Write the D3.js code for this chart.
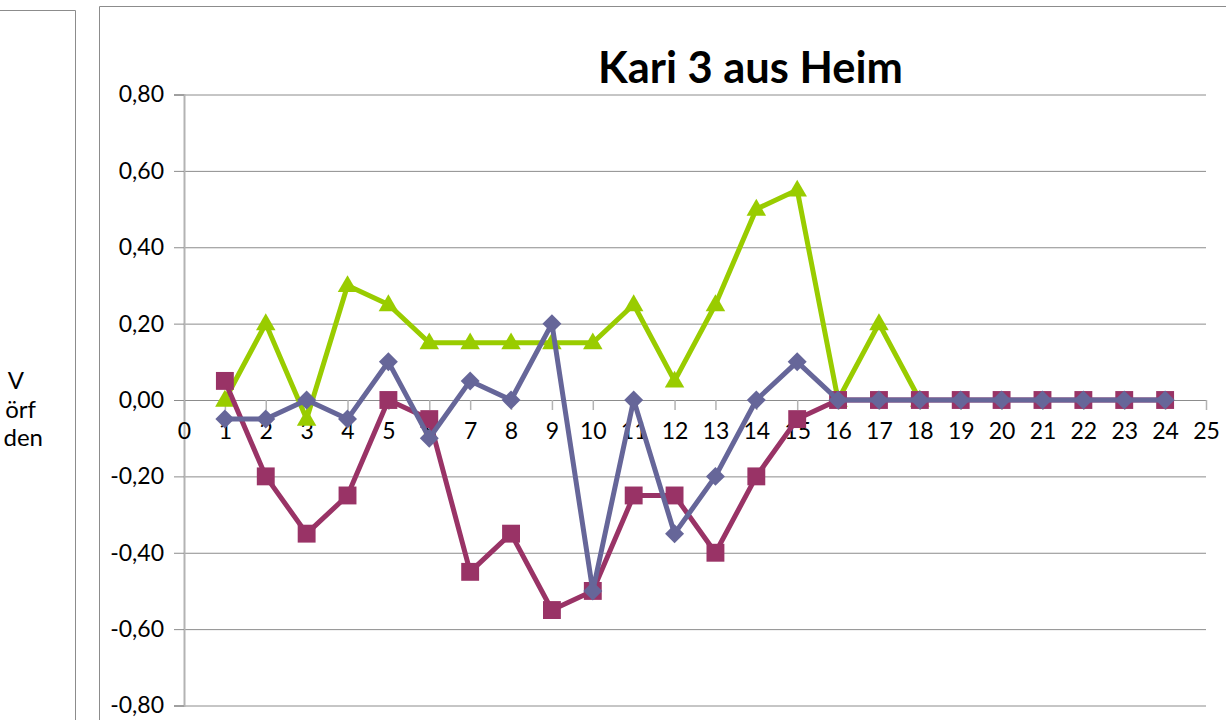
<!DOCTYPE html>
<html>
<head>
<meta charset="utf-8">
<script src="https://cdn.jsdelivr.net/npm/d3@7"></script>
<style>
  body { margin: 0; background: #fff; }
  svg { display: block; font-family: Lato, "Open Sans", sans-serif; }
</style>
</head>
<body>
<svg id="chart" width="1226" height="720"></svg>
<script>
// data
const categories = d3.range(1, 25);
const greenValues = [0, 0.20, -0.05, 0.30, 0.25, 0.15, 0.15, 0.15, 0.15, 0.15, 0.25, 0.05, 0.25, 0.50, 0.55, 0, 0.20, 0];
const redValues = [0.05, -0.20, -0.35, -0.25, 0, -0.05, -0.45, -0.35, -0.55, -0.50, -0.25, -0.25, -0.40, -0.20, -0.05, 0, 0, 0, 0, 0, 0, 0, 0, 0];
const blueValues = [-0.05, -0.05, 0, -0.05, 0.10, -0.10, 0.05, 0, 0.20, -0.50, 0, -0.35, -0.20, 0, 0.10, 0, 0, 0, 0, 0, 0, 0, 0, 0];
const yTicks = [-0.8, -0.6, -0.4, -0.2, 0, 0.2, 0.4, 0.6, 0.8];
const xTicks = d3.range(0, 26);
const sideLabels = ["V", "örf", "den"];

const svg = d3.select("#chart");

// left neighbour chart, cut off
svg.append("path")
    .attr("d", "M-1,10.5 H75.5 V721")
    .attr("fill", "none")
    .attr("stroke", "#8c8c8c")
    .attr("stroke-width", 1);

svg.selectAll("text.side")
    .data(sideLabels)
    .enter()
    .append("text")
    .attr("class", "side")
    .attr("x", (d, i) => [24, 36, 43][i])
    .attr("y", (d, i) => 389 + i * 28.5)
    .attr("text-anchor", "end")
    .attr("font-size", 24)
    .text(d => d);

// main chart frame
svg.append("path")
    .attr("d", "M99.5,721 V6.5 H1227")
    .attr("fill", "none")
    .attr("stroke", "#8c8c8c")
    .attr("stroke-width", 1);

const x = d3.scaleLinear().domain([0, 25]).range([184, 1206]);
const y = d3.scaleLinear().domain([-0.8, 0.8]).range([705.5, 94.5]);

const fmt = v => v.toFixed(2).replace(".", ",");

// gridlines
svg.append("g")
    .attr("transform", `translate(${x(0)},0)`)
    .call(d3.axisLeft(y).tickValues(yTicks).tickSize(-(x(25) - x(0))).tickFormat(""))
    .call(g => g.select(".domain").remove())
    .call(g => g.selectAll("line").attr("stroke", "#8c8c8c").attr("stroke-width", 1));

// y axis
svg.append("g")
    .attr("transform", `translate(${x(0)},0)`)
    .call(d3.axisLeft(y).tickValues(yTicks).tickSize(10).tickPadding(10).tickFormat(fmt))
    .call(g => g.select(".domain").attr("stroke", "#b3b3b3").attr("stroke-width", 2))
    .call(g => g.selectAll("line").attr("stroke", "#8c8c8c"))
    .call(g => g.selectAll("text").attr("font-size", 23).attr("font-family", "Lato").attr("fill", "#000"));

// x axis on the zero line
svg.append("g")
    .attr("transform", `translate(0,${y(0)})`)
    .call(d3.axisBottom(x).tickValues(xTicks).tickSize(10).tickPadding(13).tickFormat(d3.format("d")))
    .call(g => g.select(".domain").attr("stroke", "#8c8c8c").attr("d", `M${x(0)},0.5H${x(25)}`))
    .call(g => g.selectAll("line").attr("stroke", "#b3b3b3").attr("stroke-width", 1.5))
    .call(g => g.selectAll("text").attr("font-size", 23).attr("font-family", "Lato").attr("fill", "#000"));

// series: green under red under blue
const series = [
    { values: greenValues, color: "#99cc00", symbol: d3.symbolTriangle, size: 165, rot: 0, dy: 1 },
    { values: redValues, color: "#993366", symbol: d3.symbolSquare, size: 320, rot: 0, dy: 0 },
    { values: blueValues, color: "#666699", symbol: d3.symbolSquare, size: 180, rot: 45, dy: 0 }
];

const line = d3.line()
    .x((d, i) => x(categories[i]))
    .y(d => y(d));

series.forEach(s => {
    const g = svg.append("g");
    g.append("path")
        .attr("d", line(s.values))
        .attr("fill", "none")
        .attr("stroke", s.color)
        .attr("stroke-width", 5)
        .attr("stroke-linejoin", "round");
    g.selectAll("path.marker")
        .data(s.values)
        .enter()
        .append("path")
        .attr("class", "marker")
        .attr("d", d3.symbol().type(s.symbol).size(s.size))
        .attr("transform", (d, i) => `translate(${x(categories[i])},${y(d) + s.dy}) rotate(${s.rot})`)
        .attr("fill", s.color);
});

// title, fitted to the width it takes in the picture
const title = svg.append("text")
    .attr("x", 598)
    .attr("y", 83)
    .attr("font-weight", "bold")
    .attr("font-size", 44)
    .attr("fill", "#000")
    .text("Kari 3 aus Heim");
const tw = title.node().getComputedTextLength();
title.attr("font-size", 44 * 305 / tw);
</script>
</body>
</html>
